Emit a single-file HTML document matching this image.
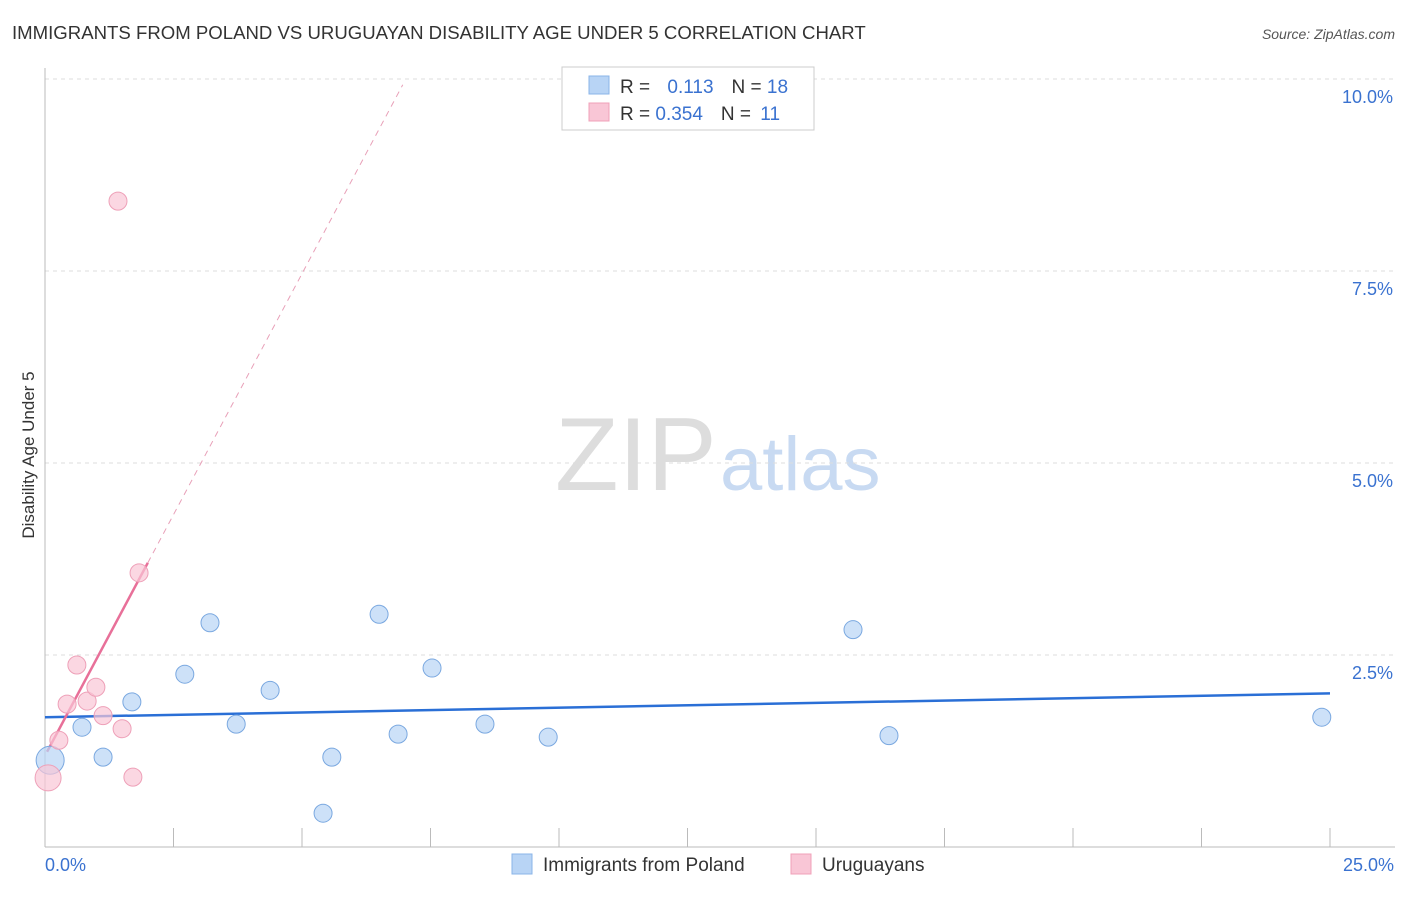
<!DOCTYPE html>
<html><head><meta charset="utf-8"><style>
body{margin:0;background:#fff;font-family:"Liberation Sans",sans-serif;}
svg text{font-family:"Liberation Sans",sans-serif;}
</style></head><body>
<svg width="1406" height="892" xmlns="http://www.w3.org/2000/svg">
<text x="12" y="39" font-size="18.6" fill="#333">IMMIGRANTS FROM POLAND VS URUGUAYAN DISABILITY AGE UNDER 5 CORRELATION CHART</text>
<text x="1395" y="39" font-size="14" fill="#555" font-style="italic" text-anchor="end">Source: ZipAtlas.com</text>
<text x="34" y="455" font-size="17" fill="#333" text-anchor="middle" transform="rotate(-90 34 455)">Disability Age Under 5</text>
<text x="555" y="490" font-size="104" fill="#ddd" font-family="Liberation Serif">ZIP</text>
<text x="720" y="490" font-size="76" fill="#c8daf2">atlas</text>
<g id="grid"></g><g id="axes"></g><g id="lines"></g><g id="points"></g>
<g>
<rect x="562" y="67" width="252" height="63" fill="#fff" stroke="#ccc"/>
<rect x="589" y="76" width="20" height="18" fill="#b8d4f5" stroke="#8ab4e8"/>
<text x="620" y="93" font-size="19" fill="#333">R = <tspan fill="#3a72d0" dx="12">0.113</tspan><tspan dx="18" fill="#333">N = </tspan><tspan fill="#3a72d0">18</tspan></text>
<rect x="589" y="103" width="20" height="18" fill="#f9c6d6" stroke="#f0a0b8"/>
<text x="620" y="120" font-size="19" fill="#333">R = <tspan fill="#3a72d0">0.354</tspan><tspan dx="18" fill="#333">N = </tspan><tspan fill="#3a72d0" dx="4">11</tspan></text>
</g>
<g>
<rect x="512" y="854" width="20" height="20" fill="#b8d4f5" stroke="#8ab4e8"/>
<text x="543" y="871" font-size="19" fill="#333">Immigrants from Poland</text>
<rect x="791" y="854" width="20" height="20" fill="#f9c6d6" stroke="#f0a0b8"/>
<text x="822" y="871" font-size="19" fill="#333">Uruguayans</text>
</g>
</svg>
<script>
const xTicks=[0,25];
const yTicks=[2.5,5,7.5,10];
const polandX=[0.1,0.72,1.13,1.69,2.72,3.21,3.72,4.38,5.58,5.41,6.5,6.87,7.53,8.56,9.79,15.72,16.42,24.84];
const polandY=[1.13,1.56,1.17,1.89,2.25,2.92,1.60,2.04,1.17,0.44,3.03,1.47,2.33,1.60,1.43,2.83,1.45,1.69];
const polandR=[14,9,9,9,9,9,9,9,9,9,9,9,9,9,9,9,9,9];
const uruX=[0.06,0.27,0.43,0.62,0.82,0.99,1.13,1.50,1.71,1.83,1.42];
const uruY=[0.9,1.39,1.86,2.37,1.90,2.08,1.71,1.54,0.91,3.57,8.41];
const uruR=[13,9,9,9,9,9,9,9,9,9,9];
const polandTrend=[1.69,2.0];
const uruTrend=[1.19,1.255];
const ns="http://www.w3.org/2000/svg";
const X=v=>45+v/25*1285, Y=v=>847-v/2.5*192;
function mk(t,a,p){const e=document.createElementNS(ns,t);for(const k in a)e.setAttribute(k,a[k]);document.getElementById(p).appendChild(e);return e;}
yTicks.forEach(t=>{
 const l=mk('line',{x1:45,x2:1395,y1:Y(t),y2:Y(t),stroke:'#ddd','stroke-dasharray':'4,4'},'grid');
 
 
 const tx=mk('text',{x:1393,y:Y(t)+24,'font-size':18,fill:'#3a72d0','text-anchor':'end'},'axes');
 tx.textContent=t.toFixed(1)+'%';
 
 
});
const ax=mk('line',{x1:45,x2:45,y1:68,y2:847,stroke:'#bbb'},'axes');


const bx=mk('line',{x1:45,x2:1395,y1:847,y2:847,stroke:'#bbb'},'axes');


for(let i=1;i<=10;i++){const t=mk('line',{x1:X(i*2.5),x2:X(i*2.5),y1:828,y2:847,stroke:'#bbb'},'axes');
 
 }
xTicks.forEach((t,i)=>{const tx=mk('text',{x:i?1394:45,y:871,'font-size':18,fill:'#3a72d0','text-anchor':i?'end':'start'},'axes');
 tx.textContent=t.toFixed(1)+'%';
 
 });
const bl=mk('line',{x1:X(0),x2:X(25),y1:Y(polandTrend[0]),y2:Y(polandTrend[1]),stroke:'#2a6fd6','stroke-width':2.5},'lines');


const pl=mk('line',{x1:X(0.04),x2:X(2.0),y1:Y(uruTrend[0]+uruTrend[1]*0.04),y2:Y(uruTrend[0]+uruTrend[1]*2.0),stroke:'#e87099','stroke-width':2.5},'lines');


const pd=mk('line',{x1:X(2.0),x2:X(6.96),y1:Y(uruTrend[0]+uruTrend[1]*2.0),y2:Y(uruTrend[0]+uruTrend[1]*6.96),stroke:'#e8a0b8','stroke-width':1,'stroke-dasharray':'6,5'},'lines');


polandX.forEach((v,i)=>{const c=mk('circle',{cx:X(v),cy:Y(polandY[i]),r:polandR[i],fill:'rgba(184,212,245,0.7)',stroke:'#7aa8e0','stroke-width':1},'points');
 
 });
uruX.forEach((v,i)=>{const c=mk('circle',{cx:X(v),cy:Y(uruY[i]),r:uruR[i],fill:'rgba(249,198,214,0.7)',stroke:'#eea0b8','stroke-width':1},'points');
 
 });
</script>
</body></html>
